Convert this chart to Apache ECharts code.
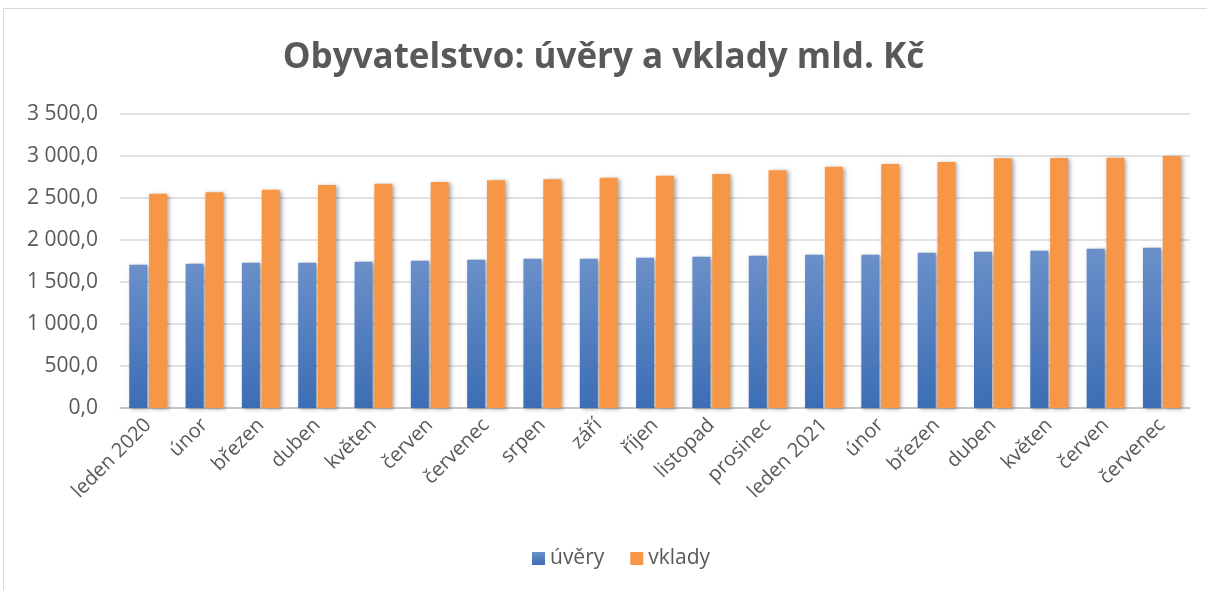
<!DOCTYPE html>
<html>
<head>
<meta charset="utf-8">
<script src="https://cdn.jsdelivr.net/npm/echarts@6/dist/echarts.min.js"></script>
<style>
  html, body { margin: 0; padding: 0; background: #fff; }
  #frame { position: absolute; left: 3px; top: 8px; width: 1230px; height: 620px; border: 1px solid #d9d9d9; }
  #chart { position: absolute; left: 0; top: 0; width: 1207px; height: 590px; }
</style>
</head>
<body>
<div id="frame"></div>
<div id="chart"></div>
<script>
// months Jan 2020 - Jul 2021
const months = ["leden 2020", "únor", "březen", "duben", "květen", "červen", "červenec", "srpen", "září",
  "říjen", "listopad", "prosinec", "leden 2021", "únor", "březen", "duben", "květen", "červen", "červenec"];
// mld. Kč
const uvery = [1704, 1716, 1728, 1728, 1740, 1752, 1764, 1776, 1776, 1788, 1800, 1812, 1824, 1824, 1848, 1860, 1872, 1896, 1908];
const vklady = [2552, 2567, 2599, 2655, 2671, 2691, 2710, 2722, 2742, 2766, 2786, 2830, 2873, 2905, 2929, 2972, 2976, 2980, 3000];

const textColor = "#595959";
const font = "Open Sans";

function czNum(v) {
  const s = v.toFixed(1).replace(".", ",");
  const [i, d] = s.split(",");
  return i.replace(/\B(?=(\d{3})+(?!\d))/g, " ") + "," + d;
}

const shadow = { shadowBlur: 4, shadowColor: "rgba(0,0,0,0.35)", shadowOffsetX: 2, shadowOffsetY: 1 };

const chart = echarts.init(document.getElementById("chart"));
chart.setOption({
  animation: false,
  title: {
    text: "Obyvatelstvo: úvěry a vklady mld. Kč",
    left: "center",
    top: 36,
    textStyle: { fontFamily: font, fontSize: 35, fontWeight: "bold", color: textColor },
  },
  legend: {
    bottom: 16,
    left: 527,
    itemWidth: 13,
    itemHeight: 13,
    itemGap: 26,
    icon: "rect",
    textStyle: { fontFamily: font, fontSize: 21, color: textColor },
    data: ["úvěry", "vklady"],
  },
  grid: { left: 120, right: 17, top: 114, bottom: 182 },
  xAxis: {
    type: "category",
    data: months,
    axisTick: { show: false },
    axisLine: { lineStyle: { color: "#bfbfbf", width: 1.5 } },
    axisLabel: { rotate: 45, fontFamily: font, fontSize: 20, color: textColor, margin: 14, interval: 0 },
  },
  yAxis: {
    type: "value",
    min: 0,
    max: 3500,
    interval: 500,
    axisLine: { show: false },
    axisTick: { show: false },
    splitLine: { lineStyle: { color: "#d9d9d9", width: 1.5 } },
    axisLabel: { fontFamily: font, fontSize: 21, color: textColor, margin: 22, formatter: czNum },
  },
  series: [
    {
      name: "úvěry",
      type: "bar",
      data: uvery,
      barWidth: 18,
      barGap: "10%",
      itemStyle: Object.assign({
        color: new echarts.graphic.LinearGradient(0, 0, 0, 1, [
          { offset: 0, color: "#6b90c9" },
          { offset: 1, color: "#3c6db4" },
        ]),
      }, shadow),
    },
    {
      name: "vklady",
      type: "bar",
      data: vklady,
      barWidth: 18,
      itemStyle: Object.assign({ color: "#f79646" }, shadow),
    },
  ],
});
</script>
</body>
</html>
